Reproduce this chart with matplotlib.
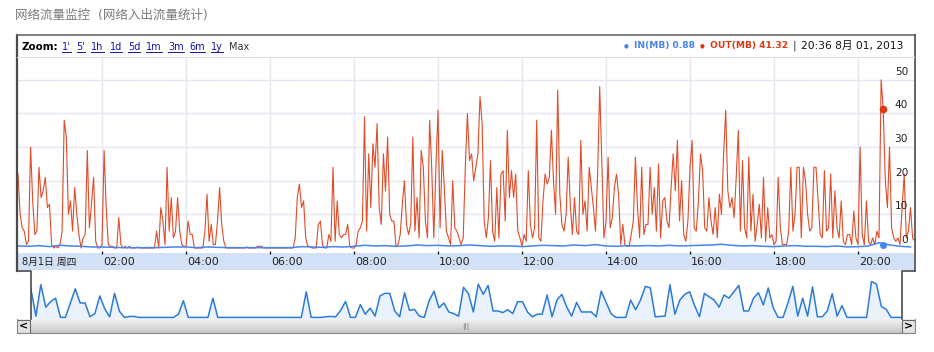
import numpy as np
import matplotlib.pyplot as plt
from matplotlib import transforms
from matplotlib.patches import Rectangle

# ======================================================
# 1. DATA
# ======================================================

# OUT traffic (MB), one value every 3 minutes from 00:00
out_mb = [
    22, 10, 6, 5, 1, 2, 30, 14, 4, 5, 24, 15, 17, 21, 12, 13, 1, 0, 0.5, 0,          # 00h
    1, 5, 38, 33, 10, 14, 5, 18, 10, 4, 0, 3, 4, 29, 6, 13, 21, 2, 0, 0,             # 01h
    1, 29, 12, 1, 0.5, 0.5, 0, 0, 9, 1, 0, 0.5, 0, 0.5, 0, 0, 0, 0.3, 0, 0,          # 02h
    0, 0, 0, 0, 0, 0, 5, 0, 12, 8, 1, 24, 5, 15, 3, 5, 15, 5, 1, 0.5,                # 03h
    0.5, 8, 4, 4, 0, 0, 0, 0, 0, 5, 16, 2, 7, 1, 1, 8, 18, 7, 2, 0,                  # 04h
    0, 0, 0, 0, 0, 0, 0, 0, 0, 0.3, 0, 0, 0, 0, 0.5, 0.5, 0.5, 0, 0, 0,              # 05h
    0, 0, 0, 0, 0, 0, 0, 0, 0, 0, 0, 0, 3, 15, 19, 12, 14, 3, 0.5, 0.5,              # 06h
    0, 0, 0, 7, 8, 1, 0, 0, 4, 2, 24, 2, 14, 4, 3, 4, 4, 7, 0.5, 0,                  # 07h
    0, 1, 5, 6, 8, 39, 5, 28, 12, 31, 24, 37, 12, 7, 28, 17, 33, 10, 8, 8,           # 08h
    0.5, 1, 4, 13, 20, 7, 4, 7, 33, 5, 15, 3, 29, 24, 8, 3, 38, 24, 3, 24,           # 09h
    41, 6, 29, 18, 5, 3, 1, 20, 6, 5, 3, 1, 3, 24, 40, 26, 28, 20, 24, 28,           # 10h
    45, 37, 8, 3, 9, 26, 5, 2, 18, 3, 22, 23, 8, 35, 15, 23, 15, 22, 5, 3,           # 11h
    0.5, 4, 2, 23, 7, 3, 6, 38, 3, 2, 14, 22, 19, 21, 35, 20, 10, 47, 16, 7,         # 12h
    5, 10, 27, 13, 4, 15, 5, 4, 32, 10, 14, 5, 24, 18, 12, 5, 22, 48, 25, 3,         # 13h
    8, 27, 6, 9, 18, 22, 16, 1, 7, 1, 0.5, 0.5, 4, 8, 27, 12, 3, 24, 4, 7,           # 14h
    7, 24, 10, 18, 5, 25, 3, 14, 15, 8, 6, 18, 28, 17, 32, 8, 20, 4, 2, 8,           # 15h
    24, 32, 6, 5, 14, 28, 23, 6, 5, 15, 8, 4, 12, 3, 16, 10, 28, 41, 17, 12,         # 16h
    15, 9, 21, 35, 5, 26, 6, 3, 27, 5, 16, 2, 7, 13, 3, 21, 2, 12, 3, 4,             # 17h
    1, 2, 21, 6, 1, 1, 1, 5, 24, 5, 10, 24, 24, 3, 24, 20, 10, 5, 6, 24,             # 18h
    24, 14, 4, 3, 23, 5, 6, 22, 3, 17, 6, 3, 14, 2, 1, 4, 4, 1, 11, 3,               # 19h
    1, 30, 4, 1, 14, 2, 1, 3, 1, 5, 3, 50, 41.32, 20, 12, 30, 6, 3, 2, 3,            # 20h
    1, 12, 22, 3, 5, 12, 3, 2,                                                       # 21h
]

# IN traffic (MB), one value every 15 minutes from 00:00
in_mb = [
    0.6, 0.5, 0.7, 0.4, 0.8, 0.6, 0.5, 0.3, 0.3, 0.2, 0.1, 0.1,
    0.1, 0.1, 0.2, 0.3, 0.3, 0.1, 0.3, 0.2, 0.1, 0.1, 0.1, 0.1,
    0.1, 0.1, 0.1, 0.4, 0.3, 0.2, 0.4, 0.3, 0.5, 0.8, 0.6, 0.7,
    0.5, 0.6, 0.9, 0.7, 0.8, 0.6, 0.7, 0.9, 0.7, 0.5, 0.6, 0.6,
    0.4, 0.6, 0.8, 0.7, 0.6, 0.9, 0.7, 1.0, 0.6, 0.5, 0.7, 0.6,
    0.7, 0.6, 0.8, 0.6, 0.7, 0.8, 0.9, 1.1, 0.8, 0.6, 0.7, 0.5,
    0.4, 0.6, 0.7, 0.5, 0.5, 0.4, 0.6, 0.3, 0.4, 0.6, 1.6, 0.9,
    0.5, 0.3,
]

# overview strip (scrollbar navigator), evenly spaced over the day
nav_out = [
    87, 4, 102, 32, 49, 60, 0, 0, 45, 89, 45, 45, 2, 12, 67, 27, 2, 75, 19, 0,
    3, 3, 0, 0, 0, 0, 0, 0, 0, 0, 10, 52, 0, 0, 0, 0, 0, 60, 0, 0,
    0, 0, 0, 0, 0, 0, 0, 0, 0, 0, 0, 0, 0, 0, 0, 0, 80, 0, 0, 0,
    2, 3, 2, 22, 50, 0, 0, 40, 10, 29, 4, 67, 75, 75, 20, 2, 77, 22, 25, 4,
    0, 52, 82, 30, 45, 17, 12, 4,
    94, 74, 17, 104, 72, 100, 20, 20, 15, 24, 12, 49, 49, 17, 2, 10, 10, 70, 2, 54,
    72, 32, 4, 47, 17, 17, 17, 2, 82, 47, 12, 0, 0, 0, 54, 24, 54, 97, 92, 2,
    3, 4, 102, 10, 54, 72, 80, 37, 2, 75, 64, 54, 32, 70, 60, 80, 100, 20, 20, 60,
    77, 39, 92, 30, 0, 0, 45, 97, 4, 60, 4, 95, 2, 2, 20, 74, 4, 37, 0, 0,
    0, 0, 0, 112, 104, 34, 25, 0, 0, 0,
]

y_ticks = [0, 10, 20, 30, 40, 50]
hour_ticks = [2, 4, 6, 8, 10, 12, 14, 16, 18, 20]
zoom_links = ["1'", "5'", "1h", "1d", "5d", "1m", "3m", "6m", "1y"]

cur_time = "20:36"
in_now = 0.88
title = "网络流量监控  (网络入出流量统计)"
day_label = "8月1日 周四"
date_label = "20:36 8月 01, 2013"

OUT_C = "#DC3912"
IN_C = "#4684EE"
GRID_C = "#E6E6F2"

# ======================================================
# 2. FIGURE / HELPERS
# ======================================================

plt.rcParams['font.family'] = ['DejaVu Sans', 'Noto Sans CJK SC']

W, H = 934, 352
fig = plt.figure(figsize=(W / 100, H / 100), dpi=100)


def px_axes(x0, y0, x1, y1, **kw):
    return fig.add_axes([x0 / W, 1 - y1 / H, (x1 - x0) / W, (y1 - y0) / H], **kw)


out_t = np.arange(len(out_mb)) * 3 / 60
in_t = np.arange(len(in_mb)) * 15 / 60
t_end = out_t[-1]
nav_t = np.linspace(0, t_end, len(nav_out))

hh, mm = cur_time.split(":")
cur_h = int(hh) + int(mm) / 60
cur_idx = int(round(cur_h * 20))
out_now = out_mb[cur_idx]

# ======================================================
# 3. MAIN CHART
# ======================================================

ax = px_axes(18, 57, 914, 250)
ax.set_xlim(0, 21.333)
ax.set_ylim(-0.6, 56.8)
ax.set_xticks(hour_ticks)
ax.set_yticks(y_ticks[1:])
ax.grid(color=GRID_C, lw=1)
ax.tick_params(length=0, labelbottom=False, labelleft=False)
for s in ax.spines.values():
    s.set_visible(False)
ax.set_axisbelow(True)

ax.plot(out_t, out_mb, color=OUT_C, lw=0.8, alpha=0.9, zorder=3)
ax.plot(in_t, in_mb, color=IN_C, lw=1.1, zorder=4)
ax.plot(cur_h, out_now, "o", color=OUT_C, ms=4.5, zorder=5)
ax.plot(cur_h, in_now, "o", color=IN_C, ms=4, zorder=5)

trans = transforms.blended_transform_factory(ax.transAxes, ax.transData)
for v in y_ticks:
    ax.text(0.9935, v + 2.4, str(v), transform=trans, ha="right", va="center",
            fontsize=7.6, color="#222222", zorder=6)

# time axis band
bx = px_axes(18, 250, 914, 270)
bx.set_xlim(0, 21.333)
bx.set_ylim(0, 1)
bx.axis("off")
bx.add_patch(Rectangle((-1, 0), 30, 0.83, color="#D2E1F6", lw=0))
bx.vlines(hour_ticks, 0.8, 0.96, color="#222222", lw=1)
for h in hour_ticks:
    bx.text(h + 0.03, 0.38, f"{h:02d}:00", ha="left", va="center",
            fontsize=8, color="#222222")

# ======================================================
# 4. NAVIGATOR + SCROLLBAR
# ======================================================

nx = px_axes(31, 270, 901, 319)
nx.set_xlim(0, t_end)
nx.set_ylim(-5, 148)
nx.axis("off")
nx.fill_between(nav_t, nav_out, -5, color="#EAF3FD", lw=0)
nx.plot(nav_t, nav_out, color="#2D7BD6", lw=1.1)

sx = px_axes(17, 319, 915, 333)
sx.set_xlim(0, 898)
sx.set_ylim(14, 0)
sx.axis("off")
grad = np.linspace(0.95, 0.78, 30).reshape(-1, 1)
sx.imshow(grad, cmap="gray", vmin=0, vmax=1, aspect="auto", extent=[0, 898, 14, 0])
for bx0 in (0, 885):
    sx.add_patch(Rectangle((bx0, 0.5), 13, 13, facecolor="#E4E4E4", edgecolor="#666666", lw=0.8))
sx.text(6.5, 7.3, "<", ha="center", va="center", fontsize=8, fontweight="bold")
sx.text(891.5, 7.3, ">", ha="center", va="center", fontsize=8, fontweight="bold")
sx.text(449, 7.3, "|||", ha="center", va="center", fontsize=5, color="#777777")

# ======================================================
# 5. FRAME + HEADER TEXT
# ======================================================

ov = fig.add_axes([0, 0, 1, 1], zorder=10)
ov.set_xlim(0, W)
ov.set_ylim(H, 0)
ov.axis("off")
ov.patch.set_alpha(0)

dark = "#4A4A4A"
ov.plot([16.5, 16.5], [35, 270.5], color=dark, lw=1.6)
ov.plot([16.5, 914.5], [35, 35], color="#6A6A6A", lw=1.2)
ov.plot([914.5, 914.5], [35, 270.5], color=dark, lw=1.2)
ov.plot([17, 914], [57, 57], color="#DDDDDD", lw=0.8)
ov.plot([16.5, 30.5, 30.5], [270.5, 270.5, 319], color=dark, lw=1.2)
ov.plot([914.5, 901.5, 901.5], [270.5, 270.5, 319], color=dark, lw=1.2)
ov.plot([16.5, 16.5, 914.5, 914.5], [319, 333, 333, 319], color="#888888", lw=0.8)

ov.text(15, 15.5, title, fontsize=9, color="#7A7A7A", va="center", ha="left")
ov.text(22, 253 + 9, day_label, fontsize=7, color="#222222", va="center", ha="left")

ov.text(22, 46.5, "Zoom:", fontsize=7.4, fontweight="bold", va="center", ha="left")

fig.canvas.draw()
rend = fig.canvas.get_renderer()


def width_px(t):
    return t.get_window_extent(rend).width


x = 62
for lab in zoom_links:
    t = ov.text(x, 46.5, lab, fontsize=7, color="#1515B0", va="center", ha="left")
    w = width_px(t)
    ov.plot([x, x + w], [51.5, 51.5], color="#1515B0", lw=0.7)
    x += w + 6
ov.text(x, 46.5, "Max", fontsize=7, color="#333333", va="center", ha="left")

x = 624
for lab, col, bold in [("\u25cf", IN_C, False), (f"IN(MB) {in_now:.2f}", IN_C, True),
                       ("\u25cf", OUT_C, False), (f"OUT(MB) {out_now:.2f}", OUT_C, True),
                       ("|", "#333333", False), (date_label, "#111111", False)]:
    fs = 4 if lab == "\u25cf" else (6.6 if bold else 7.7)
    t = ov.text(x, 45.5, lab, fontsize=fs, color=col, va="center", ha="left",
                fontweight="bold" if bold else "normal")
    x += width_px(t) + 5

fig.savefig("out.png", dpi=100)
